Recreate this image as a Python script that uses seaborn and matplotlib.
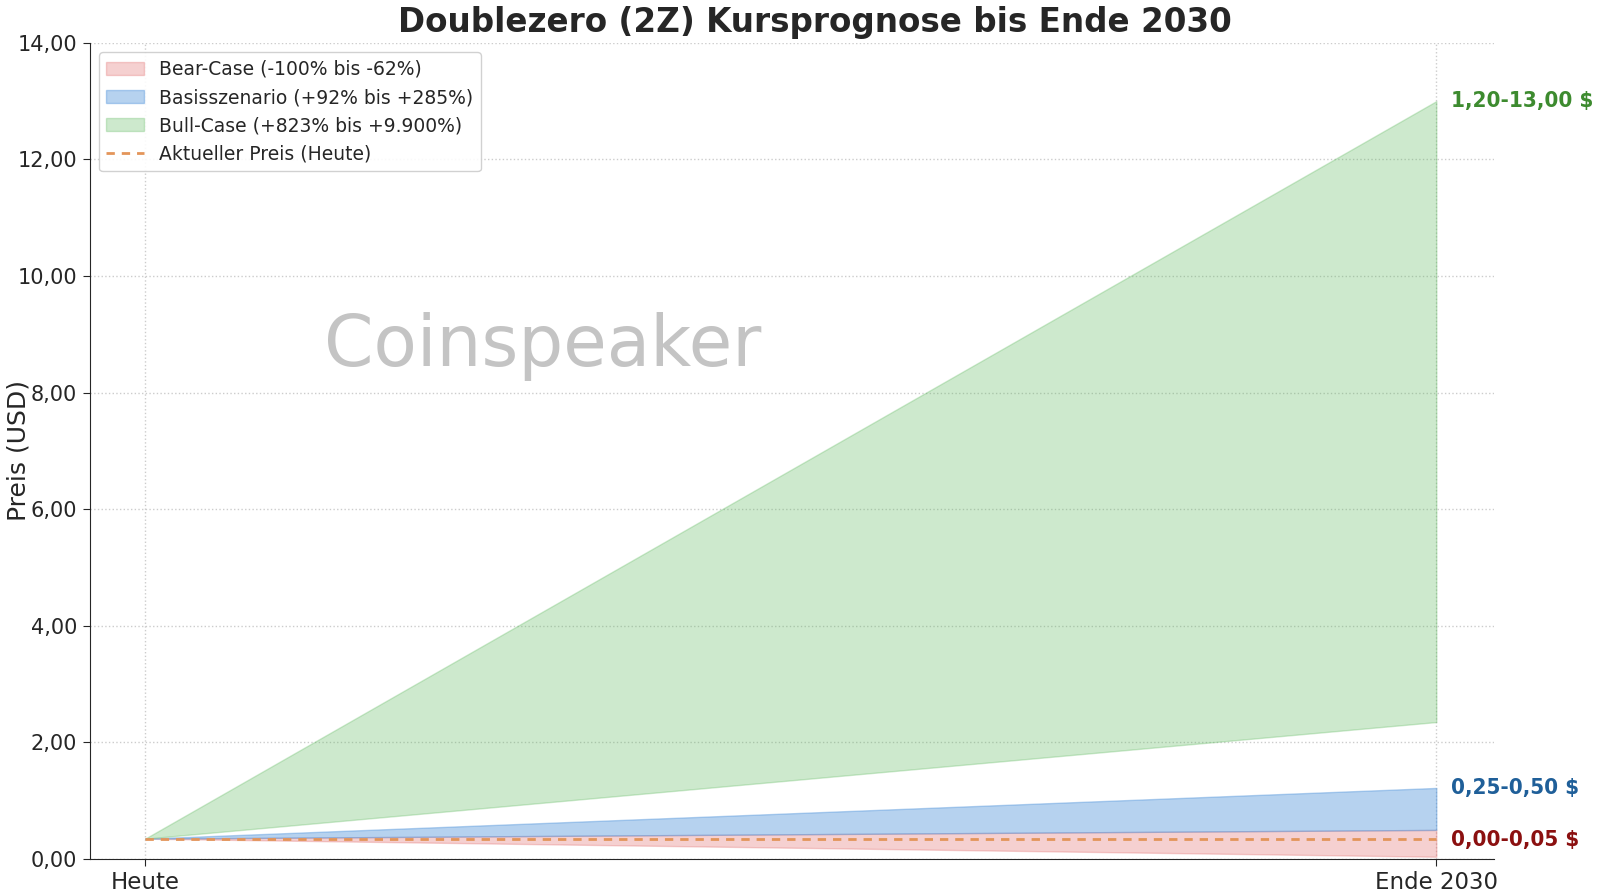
import numpy as np
import pandas as pd
import matplotlib
matplotlib.use("Agg")
import matplotlib.pyplot as plt
import seaborn as sns
from matplotlib.ticker import FuncFormatter

# Daten
zeitpunkte = [0, 1]
zeit_labels = ["Heute", "Ende 2030"]
aktueller_preis = 0.35

bear_unten = [0.35, 0.04]
bear_oben = [0.35, 0.50]
basis_unten = [0.35, 0.50]
basis_oben = [0.35, 1.22]
bull_unten = [0.35, 2.35]
bull_oben = [0.35, 13.0]

szenarien = ["Bear-Case (-100% bis -62%)",
             "Basisszenario (+92% bis +285%)",
             "Bull-Case (+823% bis +9.900%)"]
end_labels = ["0,00-0,05 $", "0,25-0,50 $", "1,20-13,00 $"]
end_label_y = [0.33, 1.22, 13.0]

farben = ["#e06666", "#4a90d9", "#5cb85c"]
alphas = [0.3, 0.4, 0.3]
label_farben = ["#8b1010", "#1f5f99", "#3d8b2f"]

sns.set_style("white")
plt.rcParams['font.family'] = ['DejaVu Sans']

fig = plt.figure(figsize=(16, 8.93), dpi=100)
ax = fig.add_axes([0.056, 0.038, 0.878, 0.914])

unten = [bear_unten, basis_unten, bull_unten]
oben = [bear_oben, basis_oben, bull_oben]
for lo, hi, c, a, name in zip(unten, oben, farben, alphas, szenarien):
    ax.fill_between(zeitpunkte, lo, hi, color=c, alpha=a, label=name,
                    linewidth=1)

df_preis = pd.DataFrame({"x": zeitpunkte, "y": [aktueller_preis] * 2})
sns.lineplot(data=df_preis, x="x", y="y", ax=ax, color="#e3955a",
             linewidth=2, dashes=False, label="Aktueller Preis (Heute)")
ax.lines[-1].set_dashes((3, 2.5))

for txt, y, c in zip(end_labels, end_label_y, label_farben):
    ax.text(1.011, y, txt, color=c, fontsize=16, fontweight="bold",
            fontstretch="condensed", va="center", ha="left")

ax.text(0.308, 8.8, "Coinspeaker", fontsize=51, color="#c4c4c4",
        ha="center", va="center")

ax.set_xlim(-0.043, 1.045)
ax.set_ylim(0, 14)
ax.set_xticks(zeitpunkte)
ax.set_xticklabels(zeit_labels, fontsize=16.5)
ax.set_yticks(np.arange(0, 15, 2))
ax.yaxis.set_major_formatter(FuncFormatter(lambda v, p: f"{v:.2f}".replace(".", ",")))
ax.tick_params(axis="y", labelsize=15, left=True, length=5, pad=4)
ax.tick_params(axis="x", bottom=True, length=5)
ax.set_xlabel("")
ax.set_ylabel("Preis (USD)", fontsize=18)
ax.yaxis.set_label_coords(-0.042, 0.5)
ax.grid(True, linestyle=":", color="#cccccc", linewidth=1)
sns.despine(ax=ax)

ax.set_title("Doublezero (2Z) Kursprognose bis Ende 2030", fontsize=23.5,
             fontweight="bold", pad=8, x=0.516)
ax.legend(loc="upper left", fontsize=13.5, frameon=True, framealpha=0.9)

fig.savefig("out.png", dpi=100)
